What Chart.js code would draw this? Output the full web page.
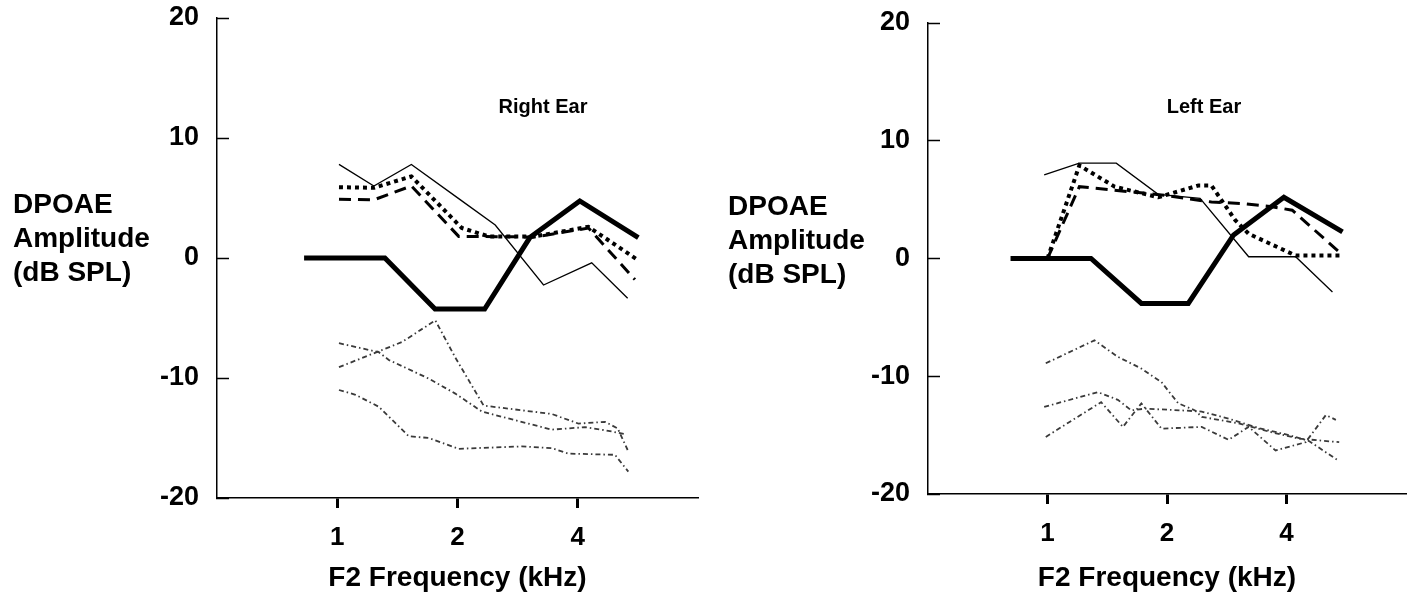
<!DOCTYPE html>
<html>
<head>
<meta charset="utf-8">
<script src="https://cdn.jsdelivr.net/npm/chart.js@4.4.1/dist/chart.umd.min.js"></script>
<style>
  body { margin: 0; background: #fff; }
  #wrap { position: relative; width: 1416px; height: 608px; }
  canvas { position: absolute; top: 0; }
</style>
</head>
<body>
<div id="wrap">
  <canvas id="rightEarChart" width="708" height="608" style="left:0"></canvas>
  <canvas id="leftEarChart" width="708" height="608" style="left:708px"></canvas>
</div>
<script>
  // tick labels
  const freqTicks = [1, 2, 4];
  const dbTicks = [-20, -10, 0, 10, 20];
  const yTitleLines = ["DPOAE", "Amplitude", "(dB SPL)"];

  // Right ear, [kHz, dB SPL]
  const rightThick = [[0.826, 0], [1.316, 0], [1.757, -4.25], [2.339, -4.25], [3.035, 1.7], [4.047, 4.75], [5.672, 1.7]];
  const rightThin = [[1.01, 7.8], [1.235, 6.0], [1.533, 7.8], [2.014, 4.95], [2.486, 2.75], [3.284, -2.25], [4.335, -0.4], [5.333, -3.35]];
  const rightDotted = [[1.01, 5.9], [1.235, 5.85], [1.533, 6.8], [2.05, 2.5], [2.393, 1.8], [3.123, 1.8], [4.254, 2.6], [5.617, -0.1]];
  const rightDashed = [[1.01, 4.9], [1.235, 4.85], [1.533, 6.0], [2.014, 1.8], [3.123, 1.75], [4.254, 2.5], [5.562, -1.8]];
  const rightNoise1 = [[1.01, -9.1], [1.453, -7.0], [1.76, -5.2], [1.975, -8.3], [2.325, -12.3], [3.444, -13.0], [4.016, -13.8], [4.68, -13.65], [5.035, -14.2], [5.333, -16.0]];
  const rightNoise2 = [[1.01, -7.1], [1.271, -7.85], [1.346, -8.5], [1.695, -10.05], [1.975, -11.3], [2.303, -12.8], [3.444, -14.3], [4.172, -14.1], [4.68, -14.35], [5.302, -14.7]];
  const rightNoise3 = [[1.01, -11.0], [1.111, -11.4], [1.271, -12.4], [1.51, -14.85], [1.695, -15.0], [2.014, -15.9], [2.898, -15.7], [3.444, -15.85], [3.792, -16.3], [4.957, -16.4], [5.354, -17.8]];

  // Left ear, [kHz, dB SPL]
  const leftThick = [[0.807, 0], [1.287, 0], [1.724, -3.82], [2.263, -3.82], [2.943, 2.0], [3.94, 5.2], [5.536, 2.26]];
  const leftThin = [[0.981, 7.1], [1.203, 8.1], [1.49, 8.1], [1.9, 5.45], [2.423, 5.1], [3.212, 0.15], [4.218, 0.15], [5.222, -2.85]];
  const leftDotted = [[1.0, 0], [1.203, 7.9], [1.476, 6.1], [1.9, 5.2], [2.399, 6.2], [2.588, 6.2], [2.972, 3.25], [3.212, 2.1], [4.218, 0.25], [5.536, 0.25]];
  const leftDashed = [[1.0, 0], [1.203, 6.1], [1.937, 5.4], [2.588, 4.8], [3.151, 4.65], [3.68, 4.4], [4.135, 4.1], [5.536, 0.3]];
  const leftNoise1 = [[0.99, -8.9], [1.313, -6.95], [1.504, -8.35], [1.724, -9.35], [1.937, -10.5], [2.135, -12.3], [2.353, -12.9], [2.446, -13.45], [3.03, -14.0], [3.61, -14.7], [4.3, -15.3], [5.43, -15.6]];
  const leftNoise2 = [[0.981, -12.6], [1.339, -11.35], [1.504, -12.0], [1.626, -12.9], [1.758, -12.75], [2.177, -12.9], [2.446, -13.0], [2.858, -13.6], [3.405, -14.4], [4.056, -15.0], [4.558, -15.5], [5.367, -17.1]];
  const leftNoise3 = [[0.99, -15.15], [1.365, -12.2], [1.549, -14.3], [1.724, -12.3], [1.937, -14.45], [2.446, -14.3], [2.858, -15.4], [3.212, -14.3], [3.753, -16.3], [4.47, -15.6], [5.025, -13.3], [5.326, -13.7]];

  const FONT = '"Liberation Sans", Arial, sans-serif';

  const toXY = (pairs) => pairs.map(p => ({ x: p[0], y: p[1] }));

  const noiseStyle = { borderColor: "#3a3a3a", borderWidth: 1.8, borderDash: [5, 3, 1.5, 3] };
  const thinStyle = { borderColor: "#000", borderWidth: 1.3 };
  const dashedStyle = { borderColor: "#000", borderWidth: 3, borderDash: [12, 7] };
  const dottedStyle = { borderColor: "#000", borderWidth: 4, borderDash: [4, 4] };
  const thickStyle = { borderColor: "#000", borderWidth: 5 };

  function buildSets(noise, thin, dashed, dotted, thick) {
    const sets = [];
    noise.forEach(n => sets.push({ data: toXY(n), ...noiseStyle }));
    sets.push({ data: toXY(thin), ...thinStyle });
    sets.push({ data: toXY(dashed), ...dashedStyle });
    sets.push({ data: toXY(dotted), ...dottedStyle });
    sets.push({ data: toXY(thick), ...thickStyle });
    return sets;
  }

  // horizontal y title and ear label
  const panelText = {
    id: "panelText",
    afterDraw(chart, args, opts) {
      const ctx = chart.ctx;
      ctx.save();
      ctx.fillStyle = "#000";
      ctx.textAlign = "left";
      ctx.textBaseline = "alphabetic";
      ctx.font = "bold 28px " + FONT;
      yTitleLines.forEach((t, i) => ctx.fillText(t, opts.titleX, opts.titleY + i * 34));
      ctx.textAlign = "center";
      ctx.textBaseline = "middle";
      ctx.font = "bold 20px " + FONT;
      ctx.fillText(opts.ear, opts.earX, opts.earY);
      ctx.restore();
    }
  };

  function makeChart(id, datasets, cfg) {
    return new Chart(document.getElementById(id), {
      type: "line",
      data: { datasets: datasets },
      plugins: [panelText],
      options: {
        responsive: false,
        animation: false,
        layout: { padding: { left: 0, right: 10, top: cfg.top, bottom: 0 } },
        elements: { point: { radius: 0 }, line: { tension: 0, fill: false } },
        plugins: {
          legend: { display: false },
          tooltip: { enabled: false },
          panelText: { titleX: cfg.titleX, titleY: cfg.titleY, ear: cfg.ear, earX: cfg.earX, earY: cfg.earY }
        },
        scales: {
          x: {
            type: "logarithmic",
            min: 0.5,
            max: 8,
            afterBuildTicks: (s) => { s.ticks = freqTicks.map(v => ({ value: v })); },
            afterFit: (s) => { s.height = cfg.xHeight; },
            border: { display: true, color: "#000", width: 1.5 },
            grid: { drawOnChartArea: false, drawTicks: true, tickLength: 10, tickWidth: 3, tickColor: "#000" },
            ticks: {
              color: "#000",
              padding: 14,
              maxRotation: 0,
              font: { family: FONT, size: 26, weight: "bold" },
              callback: (v) => String(v)
            },
            title: {
              display: true,
              text: "F2 Frequency (kHz)",
              color: "#000",
              font: { family: FONT, size: 28, weight: "bold" },
              padding: { top: 0, bottom: 13 }
            }
          },
          y: {
            min: -20,
            max: 20,
            afterBuildTicks: (s) => { s.ticks = dbTicks.map(v => ({ value: v })); },
            afterFit: (s) => {
              s.width = cfg.yWidth;
              s.paddingTop = 0;
              s.paddingBottom = 0;
            },
            border: { display: true, color: "#000", width: 1.5 },
            grid: { drawOnChartArea: false, drawTicks: true, tickLength: -12, tickWidth: 1.5, tickColor: "#000" },
            ticks: {
              color: "#000",
              padding: 30,
              font: { family: FONT, size: 27, weight: "bold" },
              callback: (v) => String(v)
            }
          }
        }
      }
    });
  }

  makeChart("rightEarChart",
    buildSets([rightNoise1, rightNoise2, rightNoise3], rightThin, rightDashed, rightDotted, rightThick),
    { top: 18, xHeight: 110, yWidth: 217, titleX: 13, titleY: 213, ear: "Right Ear", earX: 543, earY: 107 });

  makeChart("leftEarChart",
    buildSets([leftNoise1, leftNoise2, leftNoise3], leftThin, leftDashed, leftDotted, leftThick),
    { top: 23, xHeight: 114, yWidth: 220, titleX: 20, titleY: 215, ear: "Left Ear", earX: 496, earY: 107 });
</script>
</body>
</html>
